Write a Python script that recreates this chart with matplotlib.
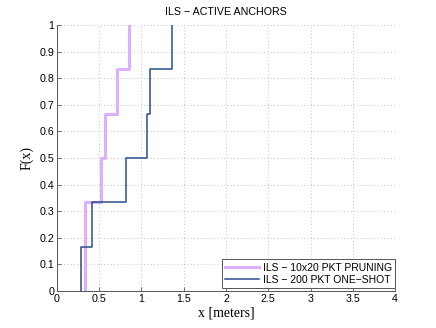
#!/usr/bin/env python3
"""ECDF of localisation error for ILS with active anchors."""
import numpy as np
import matplotlib
matplotlib.use("Agg")
import matplotlib.pyplot as plt

# sample errors (meters)
pruning_err = [0.33, 0.33, 0.52, 0.57, 0.71, 0.85]
oneshot_err = [0.28, 0.42, 0.82, 1.06, 1.10, 1.36]

labels = ["ILS \u2212 10x20 PKT PRUNING", "ILS \u2212 200 PKT ONE\u2212SHOT"]
x_ticks = [0, 0.5, 1, 1.5, 2, 2.5, 3, 3.5, 4]
y_ticks = [0, 0.1, 0.2, 0.3, 0.4, 0.5, 0.6, 0.7, 0.8, 0.9, 1]


def ecdf(vals):
    # matlab-style ecdf: first point repeated with F=0
    xs = np.sort(np.asarray(vals, dtype=float))
    n = len(xs)
    x = np.concatenate([[xs[0]], xs])
    f = np.concatenate([[0.0], np.arange(1, n + 1) / n])
    return x, f


sans = "Liberation Sans"
serif = "Liberation Serif"

fig = plt.figure(figsize=(4.36, 3.28), dpi=100)
ax = fig.add_axes([0.1307, 0.1128, 0.7753, 0.811])

x1, f1 = ecdf(pruning_err)
x2, f2 = ecdf(oneshot_err)
ax.step(x1, f1, where="post", color="#dcb0ff", linewidth=2.2, label=labels[0])
ax.step(x2, f2, where="post", color="#2b4d8d", linewidth=1.1, label=labels[1])

ax.set_xlim(0, 4)
ax.set_ylim(0, 1)
ax.set_xticks(x_ticks)
ax.set_yticks(y_ticks)
ax.set_xticklabels([f"{t:g}" for t in x_ticks], fontfamily=sans, fontsize=7.7)
ax.set_yticklabels([f"{t:g}" for t in y_ticks], fontfamily=sans, fontsize=7.7)
ax.tick_params(direction="in", length=3, width=0.6, color="#555555", pad=2)

ax.grid(True, linestyle=(0, (1, 3)), linewidth=0.6, color="#b0b0b0")
ax.set_axisbelow(True)
for side in ("top", "right"):
    ax.spines[side].set_visible(False)
for side in ("left", "bottom"):
    ax.spines[side].set_color("#555555")
    ax.spines[side].set_linewidth(0.7)

ax.set_title("ILS \u2212 ACTIVE ANCHORS", fontfamily=sans, fontsize=7.7, pad=7)
ax.set_xlabel("x [meters]", fontfamily=serif, fontsize=10, labelpad=2)
ax.set_ylabel("F(x)", fontfamily=serif, fontsize=10, labelpad=4)

leg = ax.legend(loc="lower right", bbox_to_anchor=(1.0, 0.012),
                prop={"family": sans, "size": 7.5},
                fancybox=False, framealpha=1, edgecolor="#555555",
                borderaxespad=0, handlelength=3.2, handletextpad=0.4,
                borderpad=0.3, labelspacing=0.2)
leg.get_frame().set_linewidth(0.7)

fig.savefig("out.png", dpi=100)
